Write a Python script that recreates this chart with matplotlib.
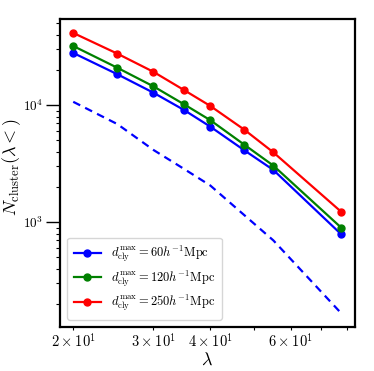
import matplotlib
matplotlib.use("Agg")
import matplotlib.pyplot as plt

plt.rcParams['mathtext.fontset'] = 'cm'
plt.rcParams['font.family'] = 'serif'
plt.rcParams['font.serif'] = ['cmr10', 'DejaVu Serif']
plt.rcParams['axes.formatter.use_mathtext'] = True

lam = [20, 25, 30, 35, 40, 47.5, 55, 77.5]
n_60 = [28000, 18400, 12800, 9120, 6560, 4120, 2800, 790]
n_120 = [32100, 20900, 14500, 10200, 7450, 4600, 3050, 900]
n_250 = [41500, 27600, 19300, 13500, 9860, 6180, 3960, 1230]
n_dashed = [10700, 6900, 4150, 2860, 2060, 1150, 700, 167]

labels = [r'$d_{\rm cly}^{\rm max} = 60h^{-1}{\rm Mpc}$',
          r'$d_{\rm cly}^{\rm max} = 120h^{-1}{\rm Mpc}$',
          r'$d_{\rm cly}^{\rm max} = 250h^{-1}{\rm Mpc}$']

fig = plt.figure(figsize=(3.74, 3.71), dpi=100)
ax = fig.add_axes([0.160, 0.118, 0.788, 0.831])

ax.plot(lam, n_60, marker='o', ms=5, lw=1.6, color='blue', label=labels[0])
ax.plot(lam, n_120, marker='o', ms=5, lw=1.6, color='green', label=labels[1])
ax.plot(lam, n_250, marker='o', ms=5, lw=1.6, color='red', label=labels[2])
ax.plot(lam, n_dashed, lw=1.6, color='blue', linestyle=(0, (3.5, 2.5)))

ax.set_xscale('log')
ax.set_yscale('log')
ax.set_xticks([20, 30, 40, 60])
ax.set_xticklabels([r'$2\times10^1$', r'$3\times10^1$', r'$4\times10^1$', r'$6\times10^1$'])
ax.tick_params(which='both', direction='out')
ax.tick_params(axis='x', which='both', labelsize=10.5, pad=1, length=2.5, width=0.8)
ax.tick_params(axis='y', which='major', labelsize=9.5, pad=2, length=10, width=1)
ax.tick_params(axis='y', which='minor', length=3, width=0.8)
for s in ax.spines.values():
    s.set_linewidth(1.6)

ax.set_xlabel(r'$\lambda$', fontsize=13, labelpad=1)
ax.set_ylabel(r'$N_{\rm cluster}(\lambda<)$', fontsize=13)
ax.yaxis.set_label_coords(-0.125, 0.52)
ax.legend(loc='lower left', fontsize=9, handlelength=2.2, labelspacing=0.35,
          borderpad=0.5, borderaxespad=0.6)

fig.savefig('out.png', dpi=100)
